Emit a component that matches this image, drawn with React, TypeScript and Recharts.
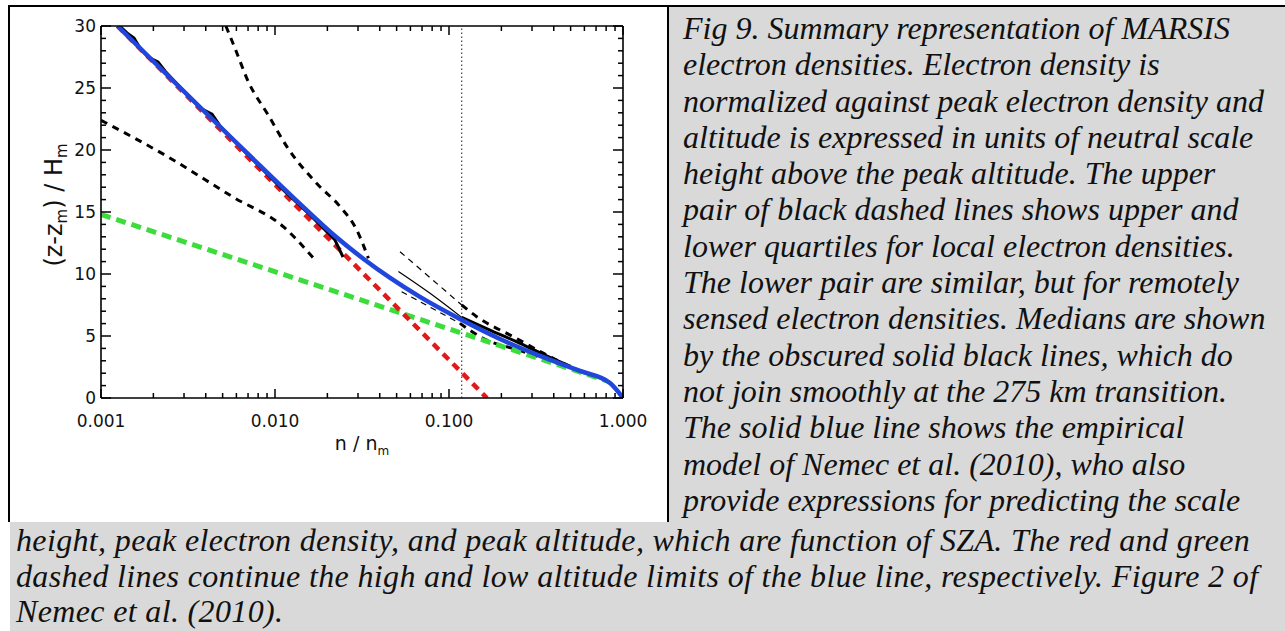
import { LineChart, Line, XAxis, YAxis, ReferenceLine } from 'recharts';

// [n / n_m, (z - z_m) / H_m] pairs
type Pt = [number, number];

const modelBlue: Pt[] = [
  [0.001244, 30.0], [0.0069, 19.76], [0.01392, 15.65], [0.02213, 13.06], [0.03289, 11.13],
  [0.0459, 9.68], [0.0681, 8.15], [0.1156, 6.37], [0.1963, 4.76], [0.3334, 3.39],
  [0.5663, 2.18], [0.842, 1.21], [1.0, 0],
];
const highAltRed: Pt[] = [[0.001244, 30], [0.1652, 0]];
const lowAltGreen: Pt[] = [[0.001, 14.8], [0.8, 1.4]];

const localMedian: Pt[] = [
  [0.00128, 30.0], [0.00141, 29.44], [0.001548, 29.03], [0.001675, 28.23], [0.001863, 27.5],
  [0.002126, 27.1], [0.002332, 26.37], [0.00277, 25.24], [0.003707, 23.39], [0.004345, 22.9],
  [0.004831, 21.94], [0.006724, 19.84], [0.01068, 17.02], [0.01589, 14.76], [0.02212, 12.74],
  [0.0246, 11.37],
];
const localLowerQ: Pt[] = [[0.001, 22.4], [0.00239, 19.5], [0.00575, 16.2], [0.0112, 13.8], [0.0166, 11.3]];
const localUpperQ: Pt[] = [
  [0.00522, 30], [0.00589, 28.2], [0.00703, 25.5], [0.00916, 22.8], [0.01192, 20.1],
  [0.01738, 17.3], [0.02366, 15.43], [0.0295, 13.55], [0.0344, 11.27],
];

const remoteUpperThin: Pt[] = [[0.0523, 11.8], [0.1183, 7.5]];
const remoteUpperThick: Pt[] = [[0.1183, 7.5], [0.1443, 6.56], [0.2342, 4.94], [0.364, 3.47], [0.518, 2.4]];
const remoteMedianThin: Pt[] = [[0.0512, 10.2], [0.0778, 8.44], [0.1183, 6.5]];
const remoteMedianThick: Pt[] = [[0.1183, 6.5], [0.172, 5.48], [0.256, 4.41], [0.364, 3.4], [0.5, 2.55]];
const remoteLowerThin: Pt[] = [[0.0534, 8.57], [0.1156, 6.02]];
const remoteLowerThick: Pt[] = [[0.1156, 6.02], [0.157, 4.81], [0.26, 3.8], [0.45, 2.65]];

const transitionN = 0.1183;

const xMajorTicks = [0.001, 0.01, 0.1, 1];
const xMinorTicks = [
  0.002, 0.003, 0.004, 0.005, 0.006, 0.007, 0.008, 0.009,
  0.02, 0.03, 0.04, 0.05, 0.06, 0.07, 0.08, 0.09,
  0.2, 0.3, 0.4, 0.5, 0.6, 0.7, 0.8, 0.9,
];
const yTicks = Array.from({ length: 31 }, (_, i) => i);

const captionRight = [
  'Fig 9. Summary representation of MARSIS',
  'electron densities. Electron density is',
  'normalized against peak electron density and',
  'altitude is expressed in units of neutral scale',
  'height above the peak altitude. The upper',
  'pair of black dashed lines shows upper and',
  'lower quartiles for local electron densities.',
  'The lower pair are similar, but for remotely',
  'sensed electron densities. Medians are shown',
  'by the obscured solid black lines, which do',
  'not join smoothly at the 275 km transition.',
  'The solid blue line shows the empirical',
  'model of Nemec et al. (2010), who also',
  'provide expressions for predicting the scale',
];
const captionBottom = [
  'height, peak electron density, and peak altitude, which are function of SZA. The red and green',
  'dashed lines continue the high and low altitude limits of the blue line, respectively. Figure 2 of',
  'Nemec et al. (2010).',
];

const rows = (pts: Pt[]) => pts.map(([n, z]) => ({ n, z }));

const W = 658;
const H = 515;
const PL = 91;
const PR = 613;
const PT = 19;
const PB = 391;
const FONT = 'DejaVu Sans, Arial, sans-serif';
const GRAY = '#d9d9d9';

const isMajorX = (v: number) => xMajorTicks.includes(v);

const BottomTick = (p: any) => {
  const { x, y, payload } = p;
  const major = isMajorX(payload.value);
  return (
    <g>
      <line x1={x} y1={y} x2={x} y2={y - (major ? 9 : 5)} stroke="#000" strokeWidth={1.5} />
      {major && (
        <text x={x} y={y + 29} textAnchor="middle" fontSize={17} fontFamily={FONT} fill="#111">
          {payload.value.toFixed(3)}
        </text>
      )}
    </g>
  );
};

const TopTick = (p: any) => {
  const { x, y, payload } = p;
  const major = isMajorX(payload.value);
  return <line x1={x} y1={y} x2={x} y2={y + (major ? 9 : 5)} stroke="#000" strokeWidth={1.5} />;
};

const LeftTick = (p: any) => {
  const { x, y, payload } = p;
  const major = payload.value % 5 === 0;
  return (
    <g>
      <line x1={x} y1={y} x2={x + (major ? 10 : 5)} y2={y} stroke="#000" strokeWidth={1.5} />
      {major && (
        <text x={x - 5} y={y + 6} textAnchor="end" fontSize={17} fontFamily={FONT} fill="#111">
          {payload.value}
        </text>
      )}
    </g>
  );
};

const RightTick = (p: any) => {
  const { x, y, payload } = p;
  const major = payload.value % 5 === 0;
  return <line x1={x} y1={y} x2={x - (major ? 10 : 5)} y2={y} stroke="#000" strokeWidth={1.5} />;
};

const XTitle = () => (
  <text x={(PL + PR) / 2} y={PB + 52} textAnchor="middle" fontSize={19} fontFamily={FONT} fill="#111">
    n / n
    <tspan fontSize={12} dy={5}>m</tspan>
  </text>
);

const YTitle = () => (
  <text
    x={0}
    y={0}
    transform={`translate(52, 198) rotate(-90)`}
    textAnchor="middle"
    fontSize={24}
    fontFamily={FONT}
    fill="#111"
  >
    (z-z
    <tspan fontSize={15} dy={5}>m</tspan>
    <tspan dy={-5}>) / H</tspan>
    <tspan fontSize={15} dy={5}>m</tspan>
  </text>
);

const axisLine = { stroke: '#000', strokeWidth: 1.6 };

const Chart = () => (
  <LineChart width={W} height={H} margin={{ top: 0, right: 0, bottom: 0, left: 0 }}>
    <XAxis
      xAxisId="b"
      dataKey="n"
      type="number"
      scale="log"
      domain={[0.001, 1]}
      allowDataOverflow
      ticks={[...xMajorTicks, ...xMinorTicks]}
      interval={0}
      tickSize={0}
      tickMargin={0}
      tickLine={false}
      axisLine={axisLine}
      tick={(p: any) => <BottomTick {...p} />}
      height={H - PB}
      label={{ content: XTitle }}
    />
    <XAxis
      xAxisId="t"
      orientation="top"
      dataKey="n"
      type="number"
      scale="log"
      domain={[0.001, 1]}
      allowDataOverflow
      ticks={[...xMajorTicks, ...xMinorTicks]}
      interval={0}
      tickSize={0}
      tickMargin={0}
      tickLine={false}
      axisLine={axisLine}
      tick={(p: any) => <TopTick {...p} />}
      height={PT}
    />
    <YAxis
      yAxisId="l"
      type="number"
      domain={[0, 30]}
      allowDataOverflow
      ticks={yTicks}
      interval={0}
      tickSize={0}
      tickMargin={0}
      tickLine={false}
      axisLine={axisLine}
      tick={(p: any) => <LeftTick {...p} />}
      width={PL}
      label={{ content: YTitle }}
    />
    <YAxis
      yAxisId="r"
      orientation="right"
      type="number"
      domain={[0, 30]}
      allowDataOverflow
      ticks={yTicks}
      interval={0}
      tickSize={0}
      tickMargin={0}
      tickLine={false}
      axisLine={axisLine}
      tick={(p: any) => <RightTick {...p} />}
      width={W - PR}
    />

    <ReferenceLine xAxisId="b" yAxisId="l" x={transitionN} stroke="#444" strokeWidth={1.2} strokeDasharray="1.5 2.5" />

    <Line xAxisId="b" yAxisId="l" data={rows(remoteUpperThin)} dataKey="z" stroke="#000" strokeWidth={1.2} strokeDasharray="6 5" dot={false} isAnimationActive={false} />
    <Line xAxisId="b" yAxisId="l" data={rows(remoteMedianThin)} dataKey="z" type="monotone" stroke="#000" strokeWidth={1.2} dot={false} isAnimationActive={false} />
    <Line xAxisId="b" yAxisId="l" data={rows(remoteLowerThin)} dataKey="z" stroke="#000" strokeWidth={1.2} strokeDasharray="6 5" dot={false} isAnimationActive={false} />
    <Line xAxisId="b" yAxisId="l" data={rows(localLowerQ)} dataKey="z" type="monotone" stroke="#000" strokeWidth={3} strokeDasharray="7 6" dot={false} isAnimationActive={false} />
    <Line xAxisId="b" yAxisId="l" data={rows(localUpperQ)} dataKey="z" type="monotone" stroke="#000" strokeWidth={3} strokeDasharray="7 6" dot={false} isAnimationActive={false} />
    <Line xAxisId="b" yAxisId="l" data={rows(remoteLowerThick)} dataKey="z" type="monotone" stroke="#000" strokeWidth={3} strokeDasharray="7 6" dot={false} isAnimationActive={false} />
    <Line xAxisId="b" yAxisId="l" data={rows(remoteUpperThick)} dataKey="z" type="monotone" stroke="#000" strokeWidth={3} strokeDasharray="7 6" dot={false} isAnimationActive={false} />
    <Line xAxisId="b" yAxisId="l" data={rows(lowAltGreen)} dataKey="z" stroke="#3ddc3d" strokeWidth={5} strokeDasharray="10 6" dot={false} isAnimationActive={false} />
    <Line xAxisId="b" yAxisId="l" data={rows(highAltRed)} dataKey="z" stroke="#e01a1a" strokeWidth={4.5} strokeDasharray="8 6" dot={false} isAnimationActive={false} />
    <Line xAxisId="b" yAxisId="l" data={rows(localMedian)} dataKey="z" stroke="#000" strokeWidth={3} dot={false} isAnimationActive={false} />
    <Line xAxisId="b" yAxisId="l" data={rows(remoteMedianThick)} dataKey="z" type="monotone" stroke="#000" strokeWidth={3} dot={false} isAnimationActive={false} />
    <Line xAxisId="b" yAxisId="l" data={rows(modelBlue)} dataKey="z" type="monotone" stroke="#2146dc" strokeWidth={4.5} dot={false} isAnimationActive={false} />
  </LineChart>
);

const captionFont: React.CSSProperties = {
  fontFamily: '"Liberation Serif", "Times New Roman", serif',
  fontStyle: 'italic',
  fontSize: 32,
  lineHeight: '36.3px',
  color: '#111',
  whiteSpace: 'pre',
};

const App = () => (
  <div style={{ position: 'absolute', left: 0, top: 0, width: 1285, height: 631, overflow: 'hidden', background: '#fff' }}>
    <div style={{ position: 'absolute', left: 8, top: 5, width: 1277, height: 2, background: '#000' }} />
    <div style={{ position: 'absolute', left: 8, top: 5, width: 2, height: 517, background: '#000' }} />
    <div style={{ position: 'absolute', left: 10, top: 7 }}>
      <Chart />
    </div>
    <div
      style={{
        position: 'absolute',
        left: 667,
        top: 7,
        width: 618,
        height: 515,
        background: GRAY,
        borderLeft: '2px solid #000',
        boxSizing: 'border-box',
      }}
    />
    <div style={{ position: 'absolute', left: 10, top: 522, width: 1275, height: 109, background: GRAY }} />
    <div style={{ ...captionFont, position: 'absolute', left: 683, top: 10 }}>
      {captionRight.map((t) => (
        <div key={t}>{t}</div>
      ))}
    </div>
    <div style={{ ...captionFont, lineHeight: '35.5px', letterSpacing: 0.35, position: 'absolute', left: 16, top: 523 }}>
      {captionBottom.map((t) => (
        <div key={t}>{t}</div>
      ))}
    </div>
  </div>
);

export default App;
